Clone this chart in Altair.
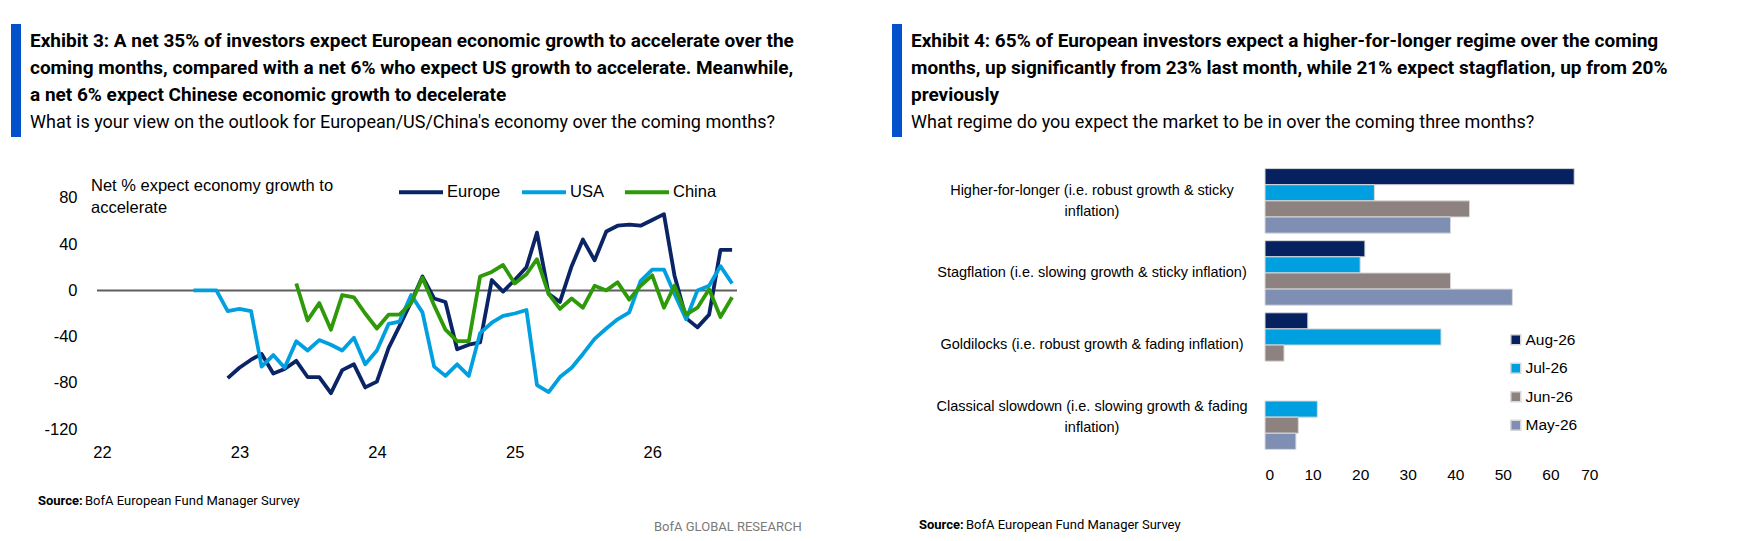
import altair as alt
import pandas as pd

# ---------------- data: Exhibit 3 (line chart) ----------------
months = pd.date_range("2022-09-01", "2026-08-01", freq="MS").strftime("%Y-%m-%d").tolist()
series_names = ["Europe", "USA", "China"]
series_colors = ["#0A2466", "#00A0E0", "#2E9A0A"]

usa = [0, 0, 0, -18,
       -16, -18, -66, -56, -67, -44, -52, -43, -47, -52, -41, -64,
       -52, -29, -27, -4, -19, -66, -74, -64, -74, -37, -28, -22,
       -20, -17, -82, -88, -75, -67, -55, -42, -33, -25, -19, 8,
       18, 18, -3, -25, 0, 4, 21, 6]
europe = [None, None, None, -76,
          -67, -60, -55, -72, -68, -61, -75, -75, -89, -69, -64, -84,
          -79, -50, -31, -10, 12, -7, -10, -51, -47, -45, 9, -1,
          9, 20, 50, -3, -10, 21, 44, 26, 51, 56, 57, 56,
          61, 66, 13, -24, -32, -21, 35, 35]
china = [None, None, None, None,
         None, None, None, None, None, 6, -26, -11, -34, -4, -6, -20,
         -33, -21, -21, -11, 11, -13, -34, -44, -44, 12, 16, 22,
         6, 14, 27, -3, -16, -7, -15, 4, 0, 7, -8, 4,
         13, -15, 4, -21, -15, 1, -23, -6]

y_ticks = [-120, -80, -40, 0, 40, 80]
year_starts = [2022, 2023, 2024, 2025, 2026]

# ---------------- data: Exhibit 4 (bar chart) ----------------
regimes = [
    "Higher-for-longer (i.e. robust growth & sticky inflation)",
    "Stagflation (i.e. slowing growth & sticky inflation)",
    "Goldilocks (i.e. robust growth & fading inflation)",
    "Classical slowdown (i.e. slowing growth & fading inflation)",
]
regime_lines = [
    ["Higher-for-longer (i.e. robust growth & sticky", "inflation)"],
    ["Stagflation (i.e. slowing growth & sticky inflation)"],
    ["Goldilocks (i.e. robust growth & fading inflation)"],
    ["Classical slowdown (i.e. slowing growth & fading", "inflation)"],
]
survey_months = ["Aug-26", "Jul-26", "Jun-26", "May-26"]
month_colors = ["#06215F", "#009FDF", "#8D8280", "#7F8FB4"]
aug26 = [65, 21, 9, 0]
jul26 = [23, 20, 37, 11]
jun26 = [43, 39, 4, 7]
may26 = [39, 52, 0, 6.5]
x_ticks_bar = [0, 10, 20, 30, 40, 50, 60, 70]

# ---------------- text ----------------
title3 = ["Exhibit 3: A net 35% of investors expect European economic growth to accelerate over the",
          "coming months, compared with a net 6% who expect US growth to accelerate. Meanwhile,",
          "a net 6% expect Chinese economic growth to decelerate"]
sub3 = "What is your view on the outlook for European/US/China's economy over the coming months?"
axis_note = ["Net % expect economy growth to", "accelerate"]
title4 = ["Exhibit 4: 65% of European investors expect a higher-for-longer regime over the coming",
          "months, up significantly from 23% last month, while 21% expect stagflation, up from 20%",
          "previously"]
sub4 = "What regime do you expect the market to be in over the coming three months?"
source_bold = "Source:"
source_text = "BofA European Fund Manager Survey"
brand = "BofA GLOBAL RESEARCH"

HEAD = "Roboto"
ARIAL = "Liberation Sans"
BAR_BLUE = "#0352CC"
TITLE_SIZE = 19
SUB_SIZE = 18

# ---------------- frames ----------------
rows = []
for name, vals in zip(series_names, [europe, usa, china]):
    for d, v in zip(months, vals):
        if v is not None:
            rows.append({"date": d, "series": name, "value": v})
df_line = pd.DataFrame(rows)

brow = []
for mname, vals in zip(survey_months, [aug26, jul26, jun26, may26]):
    for r, v in zip(regimes, vals):
        if v > 0:
            brow.append({"regime": r, "month": mname, "value": v})
df_bar = pd.DataFrame(brow)

lrow = []
for r, ls in zip(regimes, regime_lines):
    if len(ls) == 1:
        lrow.append({"regime": r, "line": ls[0], "kind": "single"})
    else:
        lrow.append({"regime": r, "line": ls[0], "kind": "top"})
        lrow.append({"regime": r, "line": ls[1], "kind": "bottom"})
df_lab = pd.DataFrame(lrow)

one = pd.DataFrame({"k": [0]})


def txt(x, y, text, size, weight="normal", font=HEAD, color="#000000", align="left",
        line_height=27, baseline="alphabetic"):
    return alt.Chart(one).mark_text(
        text=text, font=font, fontSize=size, fontWeight=weight, color=color,
        align=align, baseline=baseline, lineHeight=line_height,
    ).encode(x=alt.value(x), y=alt.value(y))


def frame(x, x2, y, y2):
    return alt.Chart(one).mark_rect(color="white", opacity=0).encode(
        x=alt.value(x), x2=alt.value(x2), y=alt.value(y), y2=alt.value(y2))


def blue_bar(x, y, y2):
    return alt.Chart(one).mark_rule(color=BAR_BLUE, strokeWidth=10).encode(
        x=alt.value(x), y=alt.value(y), y2=alt.value(y2))


# Both plot areas start at the same top (page y = 165).
# ---------------- left chart ----------------
LW, LH = 640, 264
xscale = alt.Scale(type="utc", domain=[alt.DateTime(year=2021, month=12, date=19, utc=True),
                                       alt.DateTime(year=2026, month=8, date=14, utc=True)])
lines = alt.Chart(df_line).mark_line(strokeWidth=3.8, strokeJoin="round").encode(
    x=alt.X("date:T", scale=xscale,
            axis=alt.Axis(values=[alt.DateTime(year=yv, month=1, date=1, utc=True) for yv in year_starts],
                          labelExpr="utcFormat(datum.value, '%y')", title=None, domain=False,
                          ticks=False, grid=False, labelPadding=15, labelFont=ARIAL,
                          labelFontSize=16.5, labelColor="#000000", zindex=1)),
    y=alt.Y("value:Q", scale=alt.Scale(domain=[-120, 108.57], nice=False),
            axis=alt.Axis(values=y_ticks, labelExpr="toString(datum.value)", title=None,
                          domain=False, ticks=False, grid=False, labelPadding=20,
                          labelFont=ARIAL, labelFontSize=16.5, labelColor="#000000", zindex=1)),
    color=alt.Color("series:N", scale=alt.Scale(domain=series_names, range=series_colors),
                    legend=alt.Legend(orient="none", legendX=300, legendY=3, direction="horizontal",
                                      title=None, symbolType="stroke", symbolSize=1936,
                                      symbolStrokeWidth=4, labelFont=ARIAL, labelFontSize=16.5,
                                      labelColor="#000000", labelOffset=2, columnPadding=13)),
    detail="series:N",
)
zero = alt.Chart(pd.DataFrame({"z": [0]})).mark_rule(color="#5E5E5E", strokeWidth=2).encode(
    y=alt.Y("z:Q"))

left = alt.layer(
    frame(-89, 763, -157, 365),
    blue_bar(-81, -141, -28),
    txt(-67, -118.3, title3, TITLE_SIZE, weight="bold"),
    txt(-67, -37.3, sub3, SUB_SIZE),
    txt(-6, 25.7, axis_note, 16.5, font=ARIAL, line_height=22.7),
    zero,
    lines,
    txt(-59, 340, source_bold, 13, weight="bold"),
    txt(-12, 340, source_text, 13),
    txt(557, 365.7, brand, 13, color="#7A7A7A"),
).properties(width=LW, height=LH)

# ---------------- right chart ----------------
RW, RH = 333, 288
yband = alt.Scale(paddingInner=0.105, paddingOuter=0.05)

bars = alt.Chart(df_bar).mark_bar(stroke="#D9D9D9", strokeWidth=1).encode(
    x=alt.X("value:Q", scale=alt.Scale(domain=[0, 70], nice=False),
            axis=alt.Axis(values=x_ticks_bar, title=None, domain=False, ticks=False, grid=False,
                          labelPadding=14, labelFont=ARIAL, labelFontSize=15.5,
                          labelColor="#000000", zindex=1)),
    y=alt.Y("regime:N", sort=regimes, scale=yband,
            axis=alt.Axis(title=None, domain=True, domainColor="#595959", domainWidth=2,
                          ticks=False, tickSize=0, grid=False, labels=False, zindex=1)),
    yOffset=alt.YOffset("month:N", sort=survey_months,
                        scale=alt.Scale(domain=survey_months, paddingInner=0, paddingOuter=0)),
    color=alt.Color("month:N", scale=alt.Scale(domain=survey_months, range=month_colors),
                    legend=alt.Legend(orient="none", legendX=243, legendY=167, direction="vertical",
                                      title=None, symbolType="square", symbolSize=100,
                                      labelFont=ARIAL, labelFontSize=15.5, labelColor="#000000",
                                      labelOffset=2, rowPadding=10.5)),
)


def cat_labels(kind, dy):
    return alt.Chart(df_lab).transform_filter(alt.datum.kind == kind).mark_text(
        font=ARIAL, fontSize=14.5, color="#000000", align="center", baseline="middle", dy=dy,
    ).encode(y=alt.Y("regime:N", sort=regimes, scale=yband, axis=None),
             x=alt.value(-173), text="line:N")


right = alt.layer(
    frame(-395, 463, -157, 365),
    blue_bar(-368, -141, -28),
    txt(-354, -118.3, title4, TITLE_SIZE, weight="bold"),
    txt(-354, -37.3, sub4, SUB_SIZE),
    bars,
    cat_labels("single", 0),
    cat_labels("top", -10),
    cat_labels("bottom", 11),
    txt(-346, 364, source_bold, 13, weight="bold"),
    txt(-299, 364, source_text, 13),
).properties(width=RW, height=RH)

chart = (
    alt.hconcat(left, right, spacing=10)
    .resolve_scale(color="independent")
    .resolve_legend(color="independent")
    .properties(padding=0)
    .configure_view(strokeWidth=0)
)

chart.save("out.html", embed_options={"renderer": "svg", "actions": False})
